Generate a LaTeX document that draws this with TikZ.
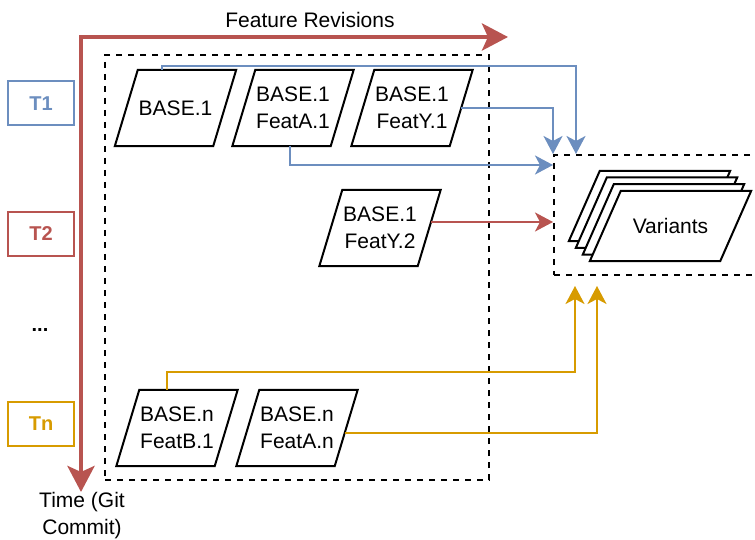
\documentclass[tikz,border=0pt]{standalone}
\usepackage{fontspec}
\setmainfont{Liberation Sans}
\usetikzlibrary{arrows.meta}
\definecolor{cblue}{HTML}{6C8EBF}
\definecolor{cred}{HTML}{B85450}
\definecolor{cyel}{HTML}{D79B00}
\tikzset{
  ptext/.style={minimum width=121pt, minimum height=76pt, inner sep=0pt, align=center, font=\fontsize{21}{27}\selectfont},
  pline/.style={draw=black, line width=2pt, line join=miter},
  dashbox/.style={draw=black, line width=2pt, dash pattern=on 6pt off 6pt, inner sep=0pt},
  tbox/.style={draw=#1, text=#1, line width=2pt, minimum width=66pt, minimum height=44pt, font=\fontsize{20}{24}\selectfont\bfseries, inner sep=0pt},
  conn/.style={draw=#1, line width=2pt, -{Stealth[length=18pt,width=19pt,inset=5pt]}},
  bigred/.style={draw=cred, line width=4.5pt, line join=miter, {Stealth[length=26pt,width=27pt,inset=6pt]}-{Stealth[length=26pt,width=27pt,inset=6pt]}},
  lbl/.style={font=\fontsize{21}{27}\selectfont, align=center, inner sep=0pt},
}
\newcommand\paral[4]{%
  \node[ptext] (#1) at (#2,#3) {#4};
  \draw[pline] ([xshift=23pt]#1.north west) -- (#1.north east) -- ([xshift=-23pt]#1.south east) -- (#1.south west) -- cycle;
}
\newcommand\vlayer[2]{%
  \draw[pline, fill=white] ([shift={(#1+31,#2)}]var.north west) -- ([shift={(#1,#2)}]var.north east) -- ([shift={(#1-31,#2)}]var.south east) -- ([shift={(#1,#2)}]var.south west) -- cycle;
}
\begin{document}
\begin{tikzpicture}[x=1pt, y=-1pt]
\useasboundingbox (0,0) rectangle (755,540);

% containers
\node[dashbox, minimum width=384pt, minimum height=425pt] (grp) at (297,267.5) {};
\node[dashbox, minimum width=206pt, minimum height=120pt] (vbox) at (657,215) {};

% time labels
\node[tbox=cblue] (t1) at (41,103.5) {T1};
\node[tbox=cred] (t2) at (41,234) {T2};
\node[font=\fontsize{20}{24}\selectfont\bfseries, inner sep=0pt, anchor=base] (dots) at (40,331) {...};
\node[tbox=cyel] (tn) at (41,424) {Tn};

% axes
\coordinate (rc) at (81,37);
\coordinate (rdown) at (81,492);
\coordinate (rright) at (508,37);
\draw[bigred] (rdown) -- (rc) -- (rright);
\node[lbl, anchor=base] (fr) at (310,28) {Feature Revisions};
\node[lbl, anchor=north] (time) at (82,492) {Time (Git\\Commit)};

% feature nodes
\paral{b1}{175.5}{108}{BASE.1}
\paral{fa1}{293}{108}{BASE.1\\FeatA.1}
\paral{fy1}{412}{108}{BASE.1\\FeatY.1}
\paral{fy2}{380}{228}{BASE.1\\FeatY.2}
\paral{fb1}{177}{428}{BASE.n\\FeatB.1}
\paral{fan}{297}{428}{BASE.n\\FeatA.n}

% variants stack
\node[minimum width=161pt, minimum height=70pt, inner sep=0pt] (var) at (670.5,226) {};
\vlayer{-21}{-20}
\vlayer{-14}{-13.3}
\vlayer{-7}{-6.7}
\vlayer{0}{0}
\node[font=\fontsize{21}{27}\selectfont, inner sep=0pt] (vartext) at (var.center) {Variants};

% connectors
\draw[conn=cblue] ([xshift=47pt]b1.north west) -- ++(0,-4) -| ([xshift=23pt]vbox.north west);
\draw[conn=cblue] ([xshift=-11.5pt]fy1.east) -| (vbox.north west);
\draw[conn=cblue] ([xshift=-3pt]fa1.south) |- ([yshift=-11pt]vbox.north west);
\coordinate (r0) at ([shift={(-10,-6)}]fy2.east);
\draw[conn=cred] (r0) -- (r0 -| vbox.west);
\draw[conn=cyel] ([xshift=-10pt]fb1.north) -- ++(0,-18) -| ([shift={(22,10)}]vbox.south west);
\draw[conn=cyel] ([shift={(-13,5)}]fan.east) -| ([shift={(44,10)}]vbox.south west);
\end{tikzpicture}
\end{document}
